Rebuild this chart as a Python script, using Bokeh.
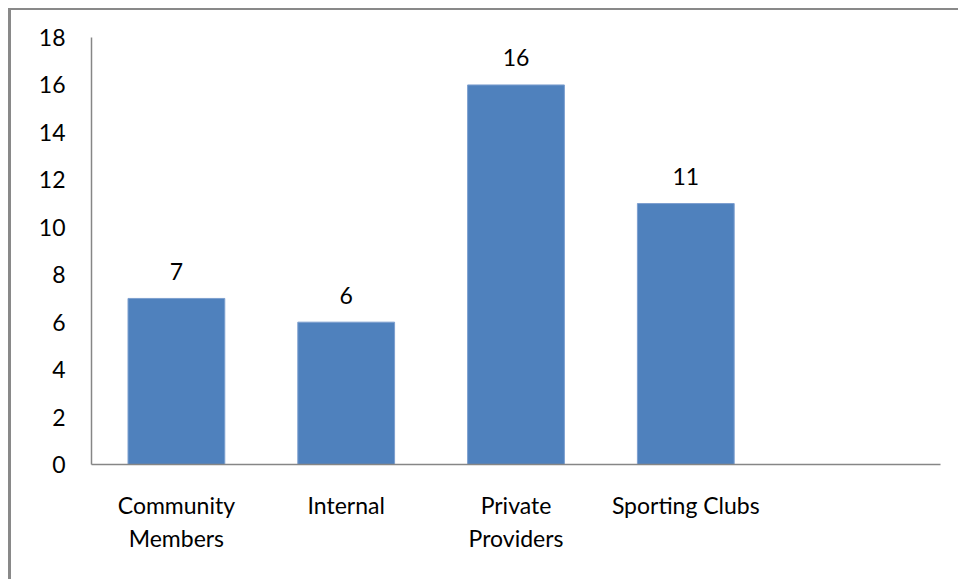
from bokeh.plotting import figure
from bokeh.models import ColumnDataSource, FactorRange, Range1d, FixedTicker, LabelSet
from bokeh.core.properties import value
from bokeh.embed import file_html
from bokeh.resources import INLINE

categories = ["Community\nMembers", "Internal", "Private\nProviders", "Sporting Clubs"]
values = [7, 6, 16, 11]
extra_slot = [" "]
y_ticks = [0, 2, 4, 6, 8, 10, 12, 14, 16, 18]

FONT = "Lato"
FS = "23px"
source = ColumnDataSource(data=dict(cat=categories, val=values, lbl=[str(v) for v in values]))

p = figure(
    x_range=FactorRange(factors=categories + extra_slot, range_padding=0),
    y_range=Range1d(0, 18),
    frame_width=849, frame_height=427,
    min_border_left=80, min_border_top=27, min_border_right=18, min_border_bottom=115,
    output_backend="svg", toolbar_location=None,
)
p.styles = {"border-left": "3px solid #898989", "border-top": "2px solid #898989",
            "margin-left": "8px", "margin-top": "8px"}

p.vbar(x="cat", top="val", width=0.57, source=source,
       fill_color="#4F81BD", line_color="#7D9FCF", line_width=1)

labels = LabelSet(x="cat", y="val", text="lbl", source=source,
                  text_align="center", text_baseline="middle", y_offset=27,
                  text_font=value(FONT), text_font_size=value(FS), text_color="#000000")
p.add_layout(labels)

p.outline_line_color = None
p.xgrid.grid_line_color = None
p.ygrid.grid_line_color = None

p.yaxis.ticker = FixedTicker(ticks=y_ticks)
p.yaxis.major_tick_line_color = None
p.yaxis.minor_tick_line_color = None
p.yaxis.axis_line_color = "#868686"
p.yaxis.axis_line_width = 1.5
p.yaxis.major_label_text_font = FONT
p.yaxis.major_label_text_font_size = FS
p.yaxis.major_label_text_color = "#000000"
p.yaxis.major_label_standoff = 20

p.xaxis.major_tick_line_color = None
p.xaxis.axis_line_color = "#868686"
p.xaxis.axis_line_width = 1.5
p.xaxis.major_label_text_font = FONT
p.xaxis.major_label_text_font_size = FS
p.xaxis.major_label_text_color = "#000000"
p.xaxis.major_label_standoff = 20

open("out.html", "w").write(file_html(p, INLINE))
